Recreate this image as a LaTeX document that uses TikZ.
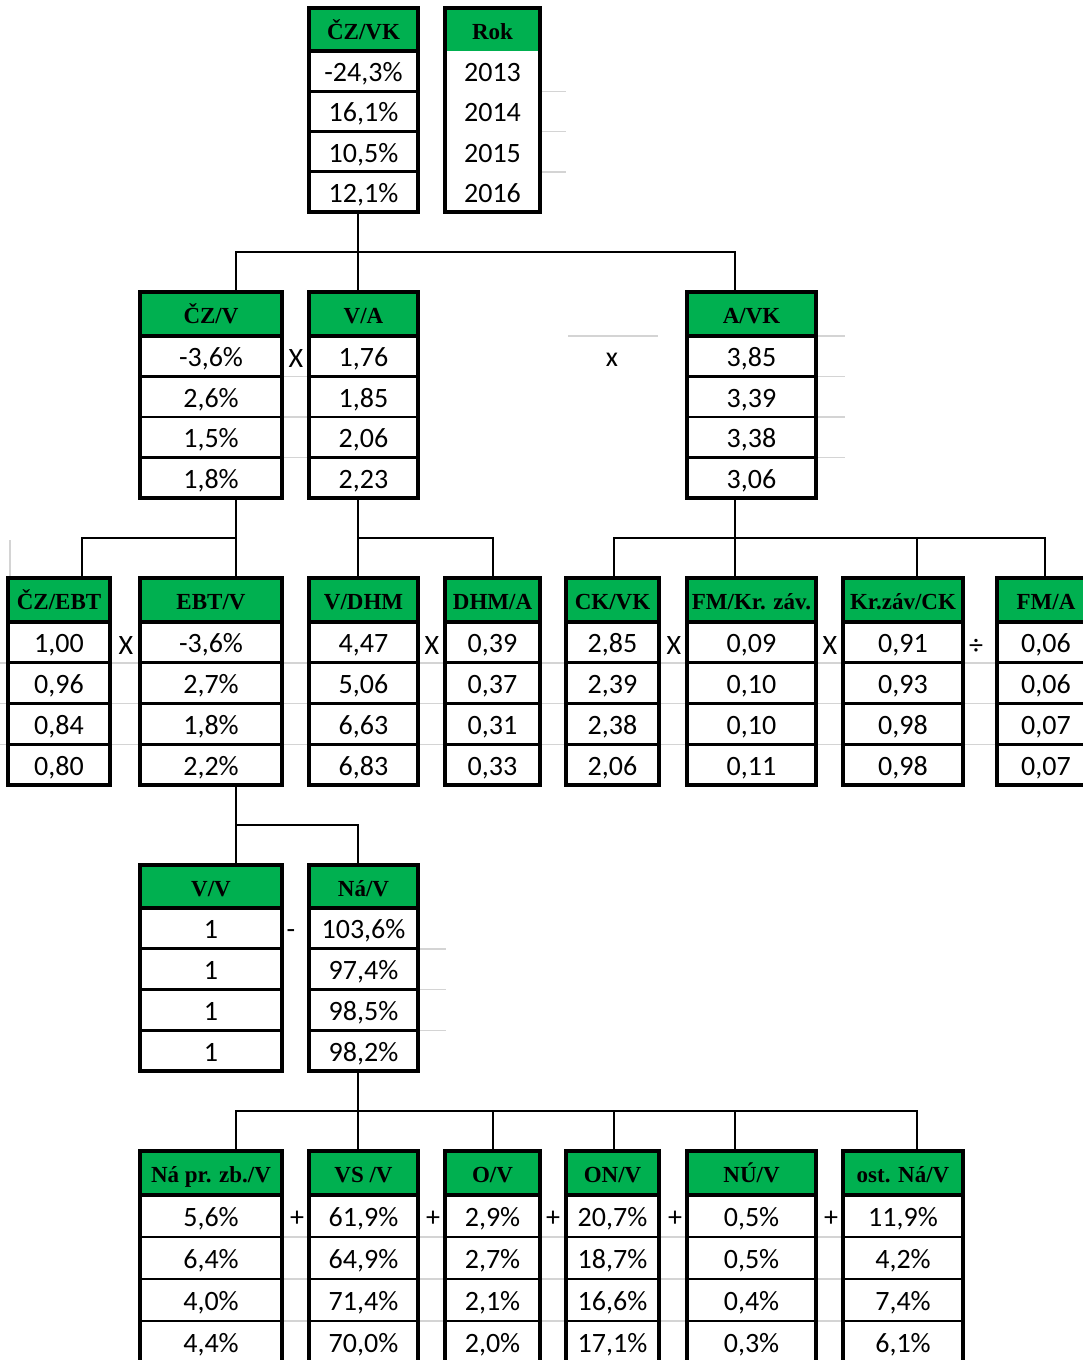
\documentclass[tikz,border=0pt]{standalone}
\usepackage{fontspec}
\setmainfont{Carlito}
\newfontfamily\hdrfont{Liberation Serif}
\usetikzlibrary{calc}
\definecolor{xlgreen}{HTML}{00B050}
\definecolor{gridgray}{HTML}{D4D4D4}
\tikzset{
  hdr/.style={draw=black, line width=3.5pt, fill=xlgreen, anchor=north west, inner sep=0pt, outer sep=0pt,
    text height=19pt, text depth=0pt, font=\hdrfont\bfseries\fontsize{23}{23}\selectfont},
  cell/.style={draw=black, line width=2.75pt, anchor=north west, inner sep=0pt, outer sep=0pt,
    text height=21pt, text depth=0pt, font=\fontsize{28}{28}\selectfont},
  outer/.style={draw=black, line width=4pt},
  conn/.style={draw=black, line width=2pt},
  gridln/.style={draw=gridgray, line width=1.5pt},
  op/.style={inner sep=0pt, text height=18pt, text depth=0pt, font=\fontsize{28}{28}\selectfont},
}
% name, xl, width, connector x, header, v1..v4 ; uses \ytop \hh \rh
\newcommand\tabl[9]{%
  \node[hdr, minimum width={#3*1pt}, minimum height={\hh*1pt}] (#1) at (#2,\ytop) {#5};
  \node[cell, minimum width={#3*1pt}, minimum height={\rh*1pt}] (#1-1) at (#2,{\ytop+\hh}) {#6};
  \node[cell, minimum width={#3*1pt}, minimum height={\rh*1pt}] (#1-2) at (#2,{\ytop+\hh+\rh}) {#7};
  \node[cell, minimum width={#3*1pt}, minimum height={\rh*1pt}] (#1-3) at (#2,{\ytop+\hh+2*\rh}) {#8};
  \node[cell, minimum width={#3*1pt}, minimum height={\rh*1pt}] (#1-4) at (#2,{\ytop+\hh+3*\rh}) {#9};
  \draw[outer] (#1.north west) rectangle (#1-4.south east);
  \coordinate (#1-t) at (#4,\ytop);
  \coordinate (#1-b) at (#4,{\ytop+\hh+4*\rh});
}
\begin{document}
\begin{tikzpicture}[x=1pt,y=-1pt]
\useasboundingbox (0,0) rectangle (1083,1360);
\fill[white] (0,0) rectangle (1083,1360);
\clip (0,0) rectangle (1083,1360);

% light grid remnants
\foreach \y in {91.25,131.5,171.75} \draw[gridln] (540,\y) -- (566,\y);
\foreach \y in {376.5,417,457.5} \draw[gridln] (282,\y) -- (309,\y);
\draw[gridln] (568,336) -- (658,336);
\foreach \y in {336,376.5,417,457.5} \draw[gridln] (816,\y) -- (845,\y);
\foreach \y in {662.75,703.5,744.25} \draw[gridln] (0,\y) -- (1083,\y);
\draw[gridln] (10,540) -- (10,578);
\foreach \y in {948.75,989.5,1030.25} \draw[gridln] (418,\y) -- (446,\y);
\foreach \y in {1237,1279,1321} {
  \draw[gridln] (282,\y) -- (309,\y);
  \draw[gridln] (418,\y) -- (445,\y);
  \draw[gridln] (540,\y) -- (566,\y);
  \draw[gridln] (659,\y) -- (687,\y);
  \draw[gridln] (816,\y) -- (843,\y);
}

% Level 1
\def\ytop{8}\def\hh{43}\def\rh{40.25}
\tabl{czvk}{309}{109}{358}{ČZ/VK}{-24,3\%}{16,1\%}{10,5\%}{12,1\%}
\begin{scope}[cell/.style={draw=none, anchor=north west, inner sep=0pt, outer sep=0pt,
    text height=21pt, text depth=0pt, font=\fontsize{28}{28}\selectfont},
    hdr/.style={draw=none, fill=xlgreen, anchor=north west, inner sep=0pt, outer sep=0pt,
    text height=19pt, text depth=0pt, font=\hdrfont\bfseries\fontsize{23}{23}\selectfont}]
\tabl{rok}{445}{95}{492}{Rok}{2013}{2014}{2015}{2016}
\end{scope}

% Level 2
\def\ytop{292}\def\hh{44}\def\rh{40.5}
\tabl{czv}{140}{142}{236}{ČZ/V}{-3,6\%}{2,6\%}{1,5\%}{1,8\%}
\tabl{va}{309}{109}{358}{V/A}{1,76}{1,85}{2,06}{2,23}
\tabl{avk}{687}{129}{735}{A/VK}{3,85}{3,39}{3,38}{3,06}

% Level 3
\def\ytop{578}\def\hh{44}\def\rh{40.75}
\tabl{czebt}{8}{102}{82}{ČZ/EBT}{1,00}{0,96}{0,84}{0,80}
\tabl{ebtv}{140}{142}{236}{EBT/V}{-3,6\%}{2,7\%}{1,8\%}{2,2\%}
\tabl{vdhm}{309}{109}{358}{V/DHM}{4,47}{5,06}{6,63}{6,83}
\tabl{dhma}{445}{95}{493}{DHM/A}{0,39}{0,37}{0,31}{0,33}
\tabl{ckvk}{566}{93}{614}{CK/VK}{2,85}{2,39}{2,38}{2,06}
\tabl{fmkz}{687}{129}{735}{FM/Kr. záv.}{0,09}{0,10}{0,10}{0,11}
\tabl{kzck}{843}{120}{917}{Kr.záv/CK}{0,91}{0,93}{0,98}{0,98}
\tabl{fma}{997}{98}{1045}{FM/A}{0,06}{0,06}{0,07}{0,07}

% Level 4
\def\ytop{865}\def\hh{43}\def\rh{40.75}
\tabl{vv}{140}{142}{236}{V/V}{1}{1}{1}{1}
\tabl{nav}{309}{109}{358}{Ná/V}{103,6\%}{97,4\%}{98,5\%}{98,2\%}

% Level 5
\def\ytop{1151}\def\hh{44}\def\rh{42}
\tabl{naprzb}{140}{142}{236}{Ná pr. zb./V}{5,6\%}{6,4\%}{4,0\%}{4,4\%}
\tabl{vsv}{309}{109}{358}{VS /V}{61,9\%}{64,9\%}{71,4\%}{70,0\%}
\tabl{ov}{445}{95}{493}{O/V}{2,9\%}{2,7\%}{2,1\%}{2,0\%}
\tabl{onv}{566}{93}{614}{ON/V}{20,7\%}{18,7\%}{16,6\%}{17,1\%}
\tabl{nuv}{687}{129}{735}{NÚ/V}{0,5\%}{0,5\%}{0,4\%}{0,3\%}
\tabl{ostnav}{843}{120}{917}{ost. Ná/V}{11,9\%}{4,2\%}{7,4\%}{6,1\%}

% connectors
\coordinate (j1) at ($(czvk-b)+(0,40)$);
\draw[conn] (czvk-b) -- (va-t);
\draw[conn] (czv-t) |- (avk-t |- j1) -- (avk-t);

\coordinate (j2) at ($(czv-b)+(0,40)$);
\draw[conn] (czv-b) -- (ebtv-t);
\draw[conn] (czebt-t) |- (czv-b |- j2);
\draw[conn] (va-b) -- (vdhm-t);
\draw[conn] (dhma-t) |- (va-b |- j2);
\draw[conn] (avk-b) -- (fmkz-t);
\draw[conn] (ckvk-t) |- (fma-t |- j2) -- (fma-t);
\draw[conn] (kzck-t) -- (kzck-t |- j2);

\coordinate (j3) at ($(ebtv-b)+(0,40)$);
\draw[conn] (ebtv-b) -- (vv-t);
\draw[conn] (j3) -| (nav-t);

\coordinate (j4) at ($(nav-b)+(0,40)$);
\draw[conn] (nav-b) -- (vsv-t);
\draw[conn] (naprzb-t) |- (ostnav-t |- j4) -- (ostnav-t);
\draw[conn] (ov-t) -- (ov-t |- j4);
\draw[conn] (onv-t) -- (onv-t |- j4);
\draw[conn] (nuv-t) -- (nuv-t |- j4);

% operators
\node[op] (o1) at (296,358) {X};
\node[op] (o2) at (612,357) {x};
\node[op] (o3) at (126,645) {X};
\node[op] (o4) at (432,645) {X};
\node[op] (o5) at (674,645) {X};
\node[op] (o6) at (830,645) {X};
\node[op] (o7) at (976,645) {÷};
\node[op] (o8) at (291,929) {-};
\node[op] (o9) at (297,1217) {+};
\node[op] (o10) at (433,1217) {+};
\node[op] (o11) at (553,1217) {+};
\node[op] (o12) at (675,1217) {+};
\node[op] (o13) at (831,1217) {+};
\end{tikzpicture}
\end{document}
